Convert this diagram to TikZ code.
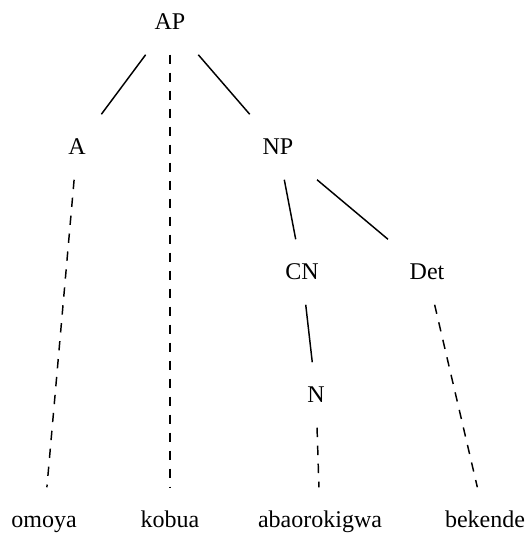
\documentclass[tikz,border=0pt]{standalone}
\usepackage{fontspec}
\setmainfont{Liberation Serif}
\begin{document}
\begin{tikzpicture}[x=0.75pt,y=-0.75pt,line width=1.1pt]
        \tikzstyle{cat}=[rectangle,inner sep=0pt,minimum width=68pt,minimum height=48pt,text height=15pt,text depth=4pt,font=\fontsize{18}{20}\selectfont]
        \tikzstyle{leaf}=[cat]
        \tikzstyle{lex}=[dash pattern=on 7pt off 6.5pt]

        \useasboundingbox (0,0) rectangle (526,533);

        \node[cat]  (AP)  at (170,22)  {AP};
        \node[cat]  (A)   at (77,147)  {A};
        \node[cat]  (NP)  at (278,147) {NP};
        \node[cat]  (CN)  at (302,272) {CN};
        \node[cat]  (Det) at (427,272) {Det};
        \node[cat]  (N)   at (316,395) {N};
        \node[leaf] (omoya)       at (44,520)  {omoya};
        \node[leaf] (kobua)       at (170,520) {kobua};
        \node[leaf] (abaorokigwa) at (320,520) {abaorokigwa};
        \node[leaf] (bekende)     at (485,520) {bekende};

        \path
                  (AP)  edge             (A)
                        edge [lex]       (kobua)
                        edge             (NP)
                  (A)   edge [lex]       (omoya)
                  (NP)  edge             (CN)
                        edge             (Det)
                  (CN)  edge             (N)
                  (N)   edge [lex]       (abaorokigwa)
                  (Det) edge [lex]       (bekende);
\end{tikzpicture}
\end{document}
